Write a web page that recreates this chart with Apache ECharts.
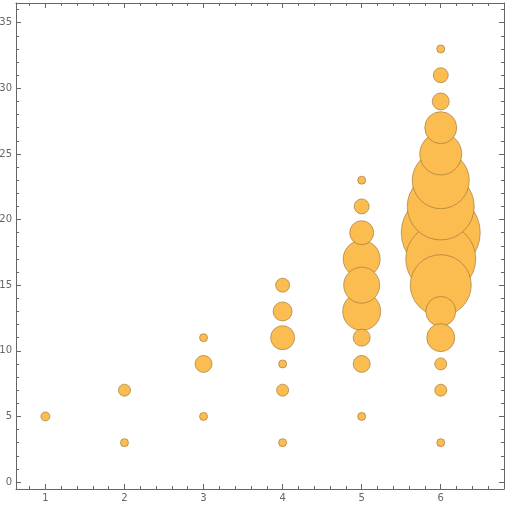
<!DOCTYPE html>
<html lang="en">
<head>
    <meta charset="UTF-8">
    <title>Bubble chart</title>
    <script src="https://cdn.jsdelivr.net/npm/echarts@6/dist/echarts.min.js"></script>
    <style>
        html, body {
            margin: 0;
            height: 100%;
            background: #fff;
        }
    </style>
</head>
<body>
<div id="main" style="width: 506px;height: 506px"></div>
</body>
</html>
<script>
    // bubble data: x position, y position, bubble diameter (px)
    var xs = [1, 2, 2, 3, 3, 3, 4, 4, 4, 4, 4, 4,
        5, 5, 5, 5, 5, 5, 5, 5, 5,
        6, 6, 6, 6, 6, 6, 6, 6, 6, 6, 6, 6, 6, 6, 6];
    var ys = [5, 3, 7, 5, 9, 11, 3, 7, 9, 11, 13, 15,
        5, 9, 11, 13, 15, 17, 19, 21, 23,
        3, 7, 9, 11, 13, 15, 17, 19, 21, 23, 25, 27, 29, 31, 33];
    var sizes = [9, 8, 12, 8, 17, 8, 8, 12, 8, 24, 19, 14,
        8, 17, 17, 38, 36, 37, 24, 15, 8,
        8, 12, 12, 28, 30, 61, 70, 79, 67, 57, 42, 32, 17, 15, 8];

    var xMajor = [1, 2, 3, 4, 5, 6];
    var yMajor = [0, 5, 10, 15, 20, 25, 30, 35];

    // minor tick positions
    var xMinor = [];
    for (var i = 4; i <= 34; i++) {
        if (i % 5 !== 0) xMinor.push(i / 5);
    }
    var yMinor = [];
    for (var j = 1; j <= 36; j++) {
        if (j % 5 !== 0) yMinor.push(j);
    }

    var points = [];
    for (var k = 0; k < xs.length; k++) {
        points.push([xs[k], ys[k], sizes[k]]);
    }
    // big bubbles underneath, small ones on top
    points.sort(function (a, b) {
        return b[2] - a[2];
    });

    var X_MIN = 0.628, X_MAX = 6.8, Y_MIN = -0.53, Y_MAX = 36.5;
    var frameColor = '#666';

    function makeAxis(pos, min, max, ticks, len, line, labels) {
        return {
            type: 'value',
            position: pos,
            min: min,
            max: max,
            splitLine: {show: false},
            axisLine: {show: line, onZero: false, lineStyle: {color: frameColor, width: 1}},
            axisTick: {
                show: true, inside: true, length: len, customValues: ticks,
                lineStyle: {color: frameColor, width: 1}
            },
            axisLabel: labels ? {
                show: true, customValues: ticks, color: '#666', fontSize: 10,
                fontFamily: 'DejaVu Sans', margin: 4
            } : {show: false}
        };
    }

    var myChart = echarts.init(document.getElementById('main'), null, {renderer: 'canvas'});
    var option = {
        animation: false,
        grid: {left: 16, right: 2, top: 3, bottom: 17, containLabel: false, outerBoundsMode: 'none'},
        xAxis: [
            makeAxis('bottom', X_MIN, X_MAX, xMajor, 5, true, true),
            makeAxis('bottom', X_MIN, X_MAX, xMinor, 3, false, false),
            makeAxis('top', X_MIN, X_MAX, xMajor, 5, true, false),
            makeAxis('top', X_MIN, X_MAX, xMinor, 3, false, false)
        ],
        yAxis: [
            makeAxis('left', Y_MIN, Y_MAX, yMajor, 5, true, true),
            makeAxis('left', Y_MIN, Y_MAX, yMinor, 3, false, false),
            makeAxis('right', Y_MIN, Y_MAX, yMajor, 5, true, false),
            makeAxis('right', Y_MIN, Y_MAX, yMinor, 3, false, false)
        ],
        series: [
            {
                type: 'scatter',
                xAxisIndex: 0,
                yAxisIndex: 0,
                data: points,
                symbolSize: function (v) {
                    return v[2];
                },
                itemStyle: {
                    color: '#fbbc50',
                    opacity: 1,
                    borderColor: 'rgba(150,110,50,0.75)',
                    borderWidth: 0.8
                }
            }
        ]
    };
    myChart.setOption(option);
</script>
